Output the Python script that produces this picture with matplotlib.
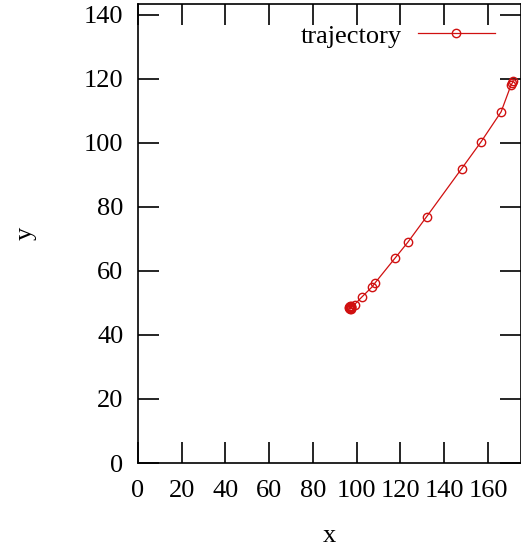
import matplotlib
matplotlib.use("Agg")
import matplotlib.pyplot as plt

x_vals = [171.5, 171.2, 170.5, 166.0, 156.8, 148.0, 132.0, 123.4, 117.5, 108.3,
          107.0, 102.4, 99.0, 97.6, 97.0, 96.8, 97.3, 96.9, 97.1, 97.0,
          96.6, 97.4, 96.7, 97.2, 96.9, 97.5, 96.5, 97.0]
y_vals = [119.5, 118.8, 118.0, 109.7, 100.3, 92.0, 77.0, 69.0, 64.0, 56.2,
          55.0, 51.9, 49.5, 48.9, 48.5, 48.3, 48.8, 48.6, 48.4, 48.5,
          48.7, 48.2, 48.9, 48.6, 48.1, 48.5, 48.4, 48.7]

x_ticks = [0, 20, 40, 60, 80, 100, 120, 140, 160]
y_ticks = [0, 20, 40, 60, 80, 100, 120, 140]

plt.rcParams['font.family'] = ['Liberation Serif', 'DejaVu Serif']
plt.rcParams['font.size'] = 19

fig = plt.figure(figsize=(5.21, 5.49), dpi=100)
W, H = 521, 549
left, right, bottom, top = 138, 521, 463, 4
ax = fig.add_axes([left / W, (H - bottom) / H, (right - left) / W, (bottom - top) / H])

ax.plot(x_vals, y_vals, color='#d01010', lw=0.9, marker='o', markersize=6,
        markerfacecolor='none', markeredgecolor='#d01010', markeredgewidth=1.0,
        label='trajectory')

ax.set_xlim(0, 175.1)
ax.set_ylim(0, 143.4)
ax.set_xticks(x_ticks)
ax.set_yticks(y_ticks)
ax.tick_params(direction='in', length=15, width=1.2, top=True, right=True)
ax.tick_params(axis='x', pad=12)
ax.tick_params(axis='y', pad=10.5)
for s in ax.spines.values():
    s.set_linewidth(1.2)

ax.set_xlabel('x', labelpad=17)
ax.set_ylabel('y', labelpad=34, rotation=90)

leg = ax.legend(loc='upper right', frameon=False, markerfirst=False,
                handlelength=2.92, handletextpad=0.6, borderpad=0,
                borderaxespad=0, bbox_to_anchor=(0.932, 0.956))

fig.savefig('out.png', dpi=100)
